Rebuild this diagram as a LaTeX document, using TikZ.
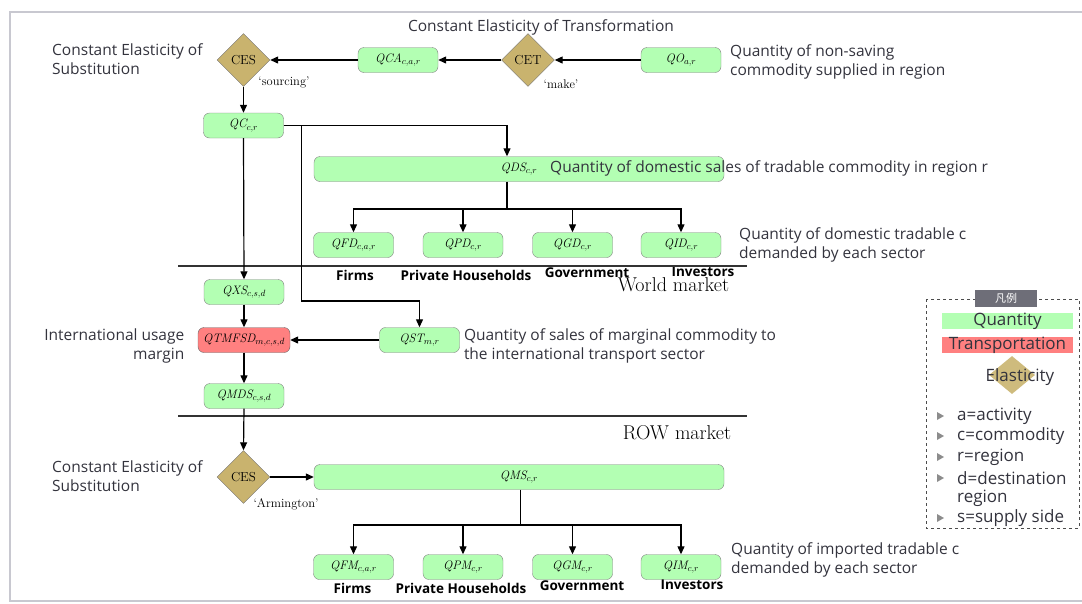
\documentclass[tikz,border=0pt]{standalone}
\usepackage{fontspec}
\setsansfont{Open Sans}
\newfontfamily\cjk{Noto Sans CJK SC}
\usetikzlibrary{shapes.geometric,arrows.meta,positioning}

\definecolor{qgreen}{RGB}{179,255,179}
\definecolor{tred}{RGB}{255,128,128}
\definecolor{etan}{RGB}{201,179,110}
\definecolor{txtgray}{RGB}{51,51,61}
\definecolor{framegray}{RGB}{200,200,208}
\definecolor{leggray}{RGB}{110,110,120}

\tikzset{
  qbox/.style={rectangle, rounded corners=6pt, draw=black!50, fill=qgreen, minimum width=80pt, minimum height=25pt, inner sep=2pt, font=\fontsize{12.3}{15}\selectfont},
  tbox/.style={qbox, fill=tred, draw=black!60, minimum width=92pt},
  wide/.style={qbox, minimum width=410pt},
  elast/.style={diamond, draw=black!55, fill=etan, minimum width=53pt, minimum height=53pt, inner sep=0pt, font=\fontsize{13}{15}\selectfont},
  note/.style={font=\sffamily\fontsize{15.5}{19}\selectfont, text=txtgray, inner sep=0pt},
  legnote/.style={note, font=\sffamily\fontsize{17}{20}\selectfont},
  who/.style={font=\sffamily\bfseries\fontsize{13.5}{16}\selectfont, inner sep=0pt},
  tag/.style={font=\fontsize{12.5}{14}\selectfont, inner sep=0pt},
  market/.style={font=\fontsize{20}{22}\selectfont, inner sep=0pt},
  flow/.style={-{Triangle[length=8pt,width=7pt]}, line width=1.2pt},
  wire/.style={line width=1.2pt},
  bar/.style={minimum width=131pt, minimum height=16pt, inner sep=0pt, font=\sffamily\fontsize{17}{17}\selectfont, text=txtgray}
}

\begin{document}
\begin{tikzpicture}[x=1pt, y=-1pt, node distance=109.5pt, on grid]
\useasboundingbox (0,0) rectangle (1082,603);
\draw[framegray, line width=1.5pt] (1082,12) -- (10,12) -- (10,601) -- (1082,601);

% supply side
\node[elast] (cesS) at (243.5,60) {CES};
\node[qbox] (qca) [right=154.5pt of cesS] {$\mathit{QCA}_{c,a,r}$};
\node[elast] (cet) [right=130pt of qca] {CET};
\node[qbox] (qo) [right=153pt of cet] {$\mathit{QO}_{a,r}$};
\node[qbox] (qc) [below=65.5pt of cesS] {$\mathit{QC}_{c,r}$};
\node[tag] (sourcing) at (284,82) {`sourcing'};
\node[tag] (make) at (561,84) {`make'};
\node[note] (cettitle) at (541,27) {Constant Elasticity of Transformation};
\node[note, anchor=west, align=left] (cesSnote) at (52,59) {Constant Elasticity of\\Substitution};
\node[note, anchor=west, align=left] (qonote) at (730,62) {Quantity of non-saving\\commodity supplied in region};

% domestic demand
\node[wide] (qds) at (519,169) {$\mathit{QDS}_{c,r}$};
\node[note, anchor=west] (qdsnote) at (550,168) {Quantity of domestic sales of tradable commodity in region r};
\node[qbox] (qfd) at (353.5,245) {$\mathit{QFD}_{c,a,r}$};
\node[qbox] (qpd) [right=of qfd] {$\mathit{QPD}_{c,r}$};
\node[qbox] (qgd) [right=of qpd] {$\mathit{QGD}_{c,r}$};
\node[qbox] (qid) [right=108.5pt of qgd] {$\mathit{QID}_{c,r}$};
\node[note, anchor=west, align=left] (qdnote) at (739,245) {Quantity of domestic tradable c\\demanded by each sector};
\node[who] (firmsD) at (355,275) {Firms};
\node[who] (hhD) at (466,275) {Private Households};
\node[who] (govD) at (587,273) {Government};
\node[who] (invD) at (703,272) {Investors};

% world market
\node[market] (world) at (673.5,285) {World market};
\node[qbox] (qxs) at (244,292) {$\mathit{QXS}_{c,s,d}$};
\node[tbox] (qtm) [below=48pt of qxs] {$\mathit{QTMFSD}_{m,c,s,d}$};
\node[qbox] (qst) [right=175.5pt of qtm] {$\mathit{QST}_{m,r}$};
\node[qbox] (qmds) [below=56pt of qtm] {$\mathit{QMDS}_{c,s,d}$};
\node[note, anchor=east, align=right] (intlnote) at (184.5,346) {International usage\\margin};
\node[note, anchor=west, align=left] (qstnote) at (463.8,346) {Quantity of sales of marginal commodity to\\the international transport sector};

% ROW market
\node[market] (row) at (677,433) {ROW market};
\node[elast] (cesA) at (243.5,477) {CES};
\node[tag] (armington) at (286,504) {`Armington'};
\node[note, anchor=west, align=left] (cesAnote) at (52,476) {Constant Elasticity of\\Substitution};
\node[wide] (qms) at (519,477) {$\mathit{QMS}_{c,r}$};
\node[qbox] (qfm) at (353.5,567) {$\mathit{QFM}_{c,a,r}$};
\node[qbox] (qpm) [right=of qfm] {$\mathit{QPM}_{c,r}$};
\node[qbox] (qgm) [right=of qpm] {$\mathit{QGM}_{c,r}$};
\node[qbox] (qim) [right=108.5pt of qgm] {$\mathit{QIM}_{c,r}$};
\node[note, anchor=west, align=left] (qmnote) at (731,560) {Quantity of imported tradable c\\demanded by each sector};
\node[who] (firmsM) at (352.5,588) {Firms};
\node[who] (hhM) at (461,588) {Private Households};
\node[who] (govM) at (582,586) {Government};
\node[who] (invM) at (692,585) {Investors};

% market lines
\draw[line width=1.5pt, black!80] (178,266) -- (747,266);
\draw[line width=1.5pt, black!80] (178,416) -- (747,416);

% flows
\draw[flow] (qo.west) -- (cet.east);
\draw[flow] (cet.west) -- (qca.east);
\draw[flow] (qca.west) -- (cesS.east);
\draw[flow] (cesS.south) -- (qc.north);
\draw[flow] (qc.east) -| ([xshift=-12pt]qds.north);
\coordinate (bend) at (301.5,301);
\coordinate (tap) at (qc.east -| bend);
\draw[flow] (tap) -- (bend) -| (qst.north);
\coordinate (splitD) at (507,209);
\draw[wire] ([xshift=-12pt]qds.south) -- (splitD);
\foreach \n in {qfd,qpd,qgd,qid}
  \draw[flow] (splitD) -| (\n.north);
\draw[flow] (qc.south) -- (qxs.north);
\draw[flow] (qxs.south) -- (qtm.north);
\draw[flow] (qst.west) -- (qtm.east);
\draw[flow] (qtm.south) -- (qmds.north);
\draw[flow] (qmds.south) -- (cesA.north);
\draw[flow] (cesA.east) -- (qms.west);
\coordinate (splitM) at (520.5,525);
\draw[wire] (qms.south -| splitM) -- (splitM);
\foreach \n in {qfm,qpm,qgm,qim}
  \draw[flow] (splitM) -| (\n.north);

% legend
\draw[dashed, black!70, line width=0.8pt] (926,299) rectangle (1079,528);
\node[fill=leggray, text=white, minimum width=62pt, minimum height=17pt, inner sep=0pt, font=\cjk\fontsize{11}{12}\selectfont] (legtitle) at (1006,298.5) {凡例};
\node[bar, fill=qgreen] (legq) at (1007.5,321) {Quantity};
\node[bar, fill=tred] (legt) at (1007.5,345) {Transportation};
\node[diamond, fill=etan!90!white, minimum width=46pt, minimum height=38pt, inner sep=0pt] (legd) at (1012,375) {};
\node[legnote] (lege) at (1020,377) {Elasticity};
\foreach \yy/\txt in {416/a=activity, 436/c=commodity, 457/r=region, 478/d=destination, 518/s=supply side} {
  \fill[black!45] (937,\yy-4) -- (944,\yy) -- (937,\yy+4) -- cycle;
  \node[legnote, anchor=west] (leg\yy) at (957,\yy) {\txt};
}
\node[legnote, anchor=west] (legregion) at (957,498) {region};
\end{tikzpicture}
\end{document}
